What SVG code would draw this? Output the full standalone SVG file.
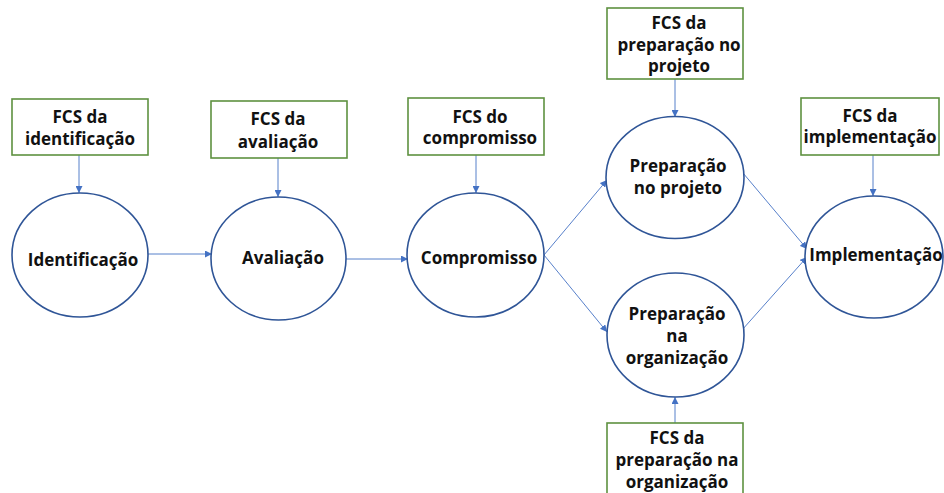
<svg xmlns="http://www.w3.org/2000/svg" width="944" height="493" viewBox="0 0 944 493">
  <defs>
    <marker id="arrow" viewBox="0 0 10 10" refX="10" refY="5" markerWidth="7" markerHeight="7" markerUnits="userSpaceOnUse" orient="auto">
      <path d="M0,0 L10,5 L0,10 z" fill="#4472C4"/>
    </marker>
    <style>
      .fcs { fill: #ffffff; stroke: #5E9140; stroke-width: 1.6; }
      .stage { fill: #ffffff; stroke: #2F5597; stroke-width: 1.6; }
      .edge { stroke: #4472C4; stroke-width: 0.9; fill: none; marker-end: url(#arrow); }
      text { font-family: "Open Sans", "Liberation Sans", Arial, sans-serif; font-weight: bold; font-size: 17px; fill: #111111; text-anchor: middle; }
    </style>
  </defs>
  <rect width="944" height="493" fill="#ffffff"/>

  <!-- connectors -->
  <g id="connectors">
    <line class="edge" x1="79" y1="155" x2="79" y2="193"/>
    <line class="edge" x1="278" y1="158" x2="278" y2="197"/>
    <line class="edge" x1="476" y1="155" x2="476" y2="193"/>
    <line class="edge" x1="675" y1="79" x2="675" y2="117"/>
    <line class="edge" x1="675" y1="423" x2="675" y2="397"/>
    <line class="edge" x1="873" y1="155" x2="873" y2="196"/>
    <line class="edge" x1="148" y1="254" x2="212" y2="254"/>
    <line class="edge" x1="346" y1="259" x2="408" y2="259"/>
    <line class="edge" x1="544" y1="255" x2="607" y2="180"/>
    <line class="edge" x1="544" y1="255" x2="607" y2="332"/>
    <line class="edge" x1="743" y1="173" x2="807" y2="249"/>
    <line class="edge" x1="742" y1="330" x2="807" y2="257"/>
  </g>

  <!-- critical success factor boxes -->
  <g id="fcs-identificacao">
    <rect class="fcs" x="12" y="99" width="136" height="56"/>
    <text x="80" y="123">FCS da</text>
    <text x="80" y="145">identificação</text>
  </g>
  <g id="fcs-avaliacao">
    <rect class="fcs" x="211" y="101" width="136" height="57"/>
    <text x="278" y="125">FCS da</text>
    <text x="278" y="148">avaliação</text>
  </g>
  <g id="fcs-compromisso">
    <rect class="fcs" x="408" y="98" width="136" height="57"/>
    <text x="480" y="123">FCS do</text>
    <text x="480" y="144">compromisso</text>
  </g>
  <g id="fcs-preparacao-projeto">
    <rect class="fcs" x="607" y="8" width="136" height="71"/>
    <text x="679" y="29">FCS da</text>
    <text x="679" y="51">preparação no</text>
    <text x="679" y="72">projeto</text>
  </g>
  <g id="fcs-preparacao-organizacao">
    <rect class="fcs" x="607" y="423" width="136" height="80"/>
    <text x="677" y="444">FCS da</text>
    <text x="677" y="466">preparação na</text>
    <text x="677" y="488">organização</text>
  </g>
  <g id="fcs-implementacao">
    <rect class="fcs" x="801" y="98" width="138" height="57"/>
    <text x="870" y="122">FCS da</text>
    <text x="870" y="143">implementação</text>
  </g>

  <!-- project stages -->
  <g id="identificacao">
    <ellipse class="stage" cx="80" cy="255" rx="68" ry="62"/>
    <text x="83" y="266">Identificação</text>
  </g>
  <g id="avaliacao">
    <ellipse class="stage" cx="278.5" cy="258.5" rx="67.5" ry="61.5"/>
    <text x="283" y="264">Avaliação</text>
  </g>
  <g id="compromisso">
    <ellipse class="stage" cx="475.5" cy="255" rx="68.5" ry="62"/>
    <text x="479" y="264">Compromisso</text>
  </g>
  <g id="preparacao-projeto">
    <ellipse class="stage" cx="675" cy="177.5" rx="69" ry="61"/>
    <text x="678" y="172">Preparação</text>
    <text x="678" y="194">no projeto</text>
  </g>
  <g id="preparacao-organizacao">
    <ellipse class="stage" cx="675.5" cy="335" rx="68.5" ry="62"/>
    <text x="677" y="320">Preparação</text>
    <text x="677" y="342">na</text>
    <text x="677" y="364">organização</text>
  </g>
  <g id="implementacao">
    <ellipse class="stage" cx="874" cy="257" rx="69" ry="61"/>
    <text x="876" y="261">Implementação</text>
  </g>
</svg>
